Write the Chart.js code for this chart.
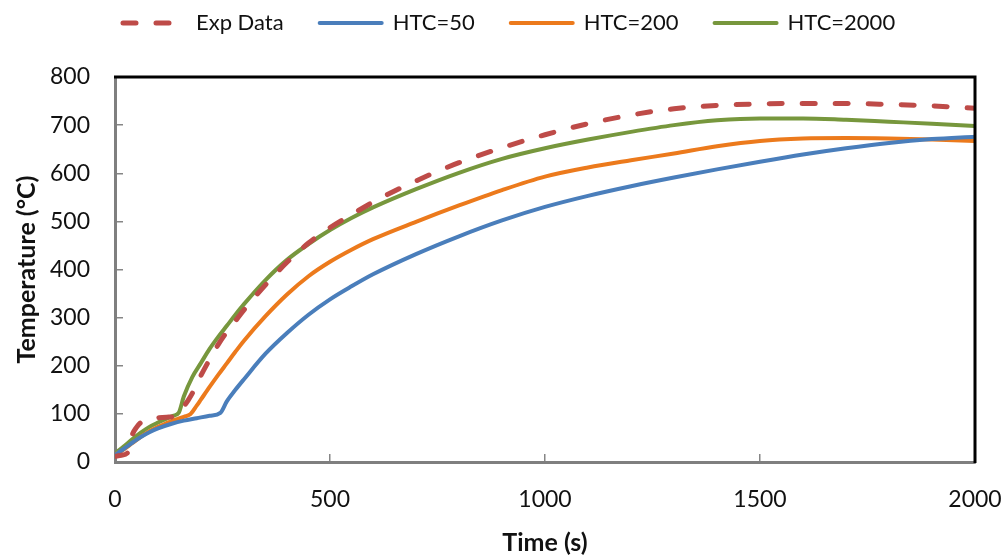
<!DOCTYPE html>
<html>
<head>
<meta charset="utf-8">
<title>Temperature vs time</title>
<script src="https://cdn.jsdelivr.net/npm/chart.js@4.4.1/dist/chart.umd.min.js"></script>
<style>
  html, body { margin: 0; padding: 0; background: #fff; }
</style>
</head>
<body>
<canvas id="tempChart" width="1008" height="559"></canvas>
<script>
const expTime = [0, 15, 30, 40, 50, 60, 70, 80, 100, 120, 140, 150, 160, 170, 180, 190, 200, 220, 240, 260, 280, 300, 350, 400, 450, 500, 550, 600, 650, 700, 750, 800, 900, 1000, 1100, 1200, 1300, 1400, 1500, 1600, 1700, 1800, 1900, 2000];
const expTemp = [12, 14, 20, 56, 72, 82, 87, 90, 92, 93, 95, 99, 115, 128, 143, 162, 180, 213, 244, 270, 293, 316, 368, 415, 455, 487, 514, 540, 563, 584, 604, 622, 653, 680, 703, 721, 734, 741, 744, 745, 745, 743, 740, 735];

// simulations
const time50 = [0, 20, 40, 60, 80, 100, 130, 160, 190, 220, 245, 260, 280, 300, 350, 400, 450, 500, 550, 600, 700, 800, 900, 1000, 1100, 1200, 1300, 1400, 1500, 1600, 1700, 1800, 1900, 2000];
const htc50 = [15, 27, 40, 52, 62, 70, 79, 86, 91, 96, 102, 126, 150, 172, 225, 268, 306, 338, 365, 390, 432, 469, 502, 530, 553, 573, 591, 608, 624, 639, 652, 663, 671, 676];

const time200 = [0, 20, 40, 60, 80, 100, 120, 140, 160, 175, 190, 200, 220, 240, 260, 280, 300, 350, 400, 450, 500, 550, 600, 700, 800, 900, 1000, 1100, 1200, 1300, 1400, 1500, 1600, 1700, 1800, 1900, 2000];
const htc200 = [15, 26, 39, 52, 64, 73, 81, 88, 94, 99, 117, 130, 156, 181, 205, 229, 252, 303, 348, 386, 416, 441, 463, 499, 533, 565, 593, 612, 627, 641, 656, 667, 672, 673, 672, 670, 667];

const time2000 = [0, 20, 40, 60, 80, 100, 120, 135, 148, 160, 180, 200, 220, 240, 260, 280, 300, 350, 400, 450, 500, 550, 600, 700, 800, 900, 1000, 1100, 1200, 1300, 1400, 1500, 1600, 1700, 1800, 1900, 2000];
const htc2000 = [18, 32, 47, 61, 73, 82, 90, 96, 102, 136, 177, 206, 235, 260, 283, 306, 328, 378, 420, 453, 482, 507, 529, 567, 601, 630, 652, 670, 686, 700, 710, 714, 714, 711, 707, 703, 698];

const xTicks = [0, 500, 1000, 1500, 2000];
const yTicks = [0, 100, 200, 300, 400, 500, 600, 700, 800];

const toPoints = (xs, ys) => xs.map((x, i) => ({ x: x, y: ys[i] }));

Chart.defaults.font.family = 'Lato, "Liberation Sans", sans-serif';
Chart.defaults.color = '#111';

// black frame on top and right of the plot area
const frame = {
  id: 'frame',
  afterDatasetsDraw(chart) {
    const { ctx, chartArea: a } = chart;
    ctx.save();
    ctx.strokeStyle = '#000';
    ctx.lineWidth = 3;
    ctx.beginPath();
    ctx.moveTo(a.left - 1, a.top);
    ctx.lineTo(a.right, a.top);
    ctx.lineTo(a.right, a.bottom + 1);
    ctx.stroke();
    ctx.restore();
  }
};

// keep the legend short and nudge it to where the original sits
const legendPlace = {
  id: 'legendPlace',
  beforeInit(chart) {
    const fit = chart.legend.fit;
    chart.legend.fit = function () {
      fit.call(this);
      this.height = 50;
    };
  },
  afterLayout(chart) {
    chart.legend.left = 87;
    chart.legend.top = -24;
  }
};

const ctx = document.getElementById('tempChart').getContext('2d');

new Chart(ctx, {
  type: 'line',
  data: {
    datasets: [
      {
        label: 'Exp Data',
        data: toPoints(expTime, expTemp),
        borderColor: '#BE4B48',
        borderWidth: 5,
        borderDash: [13, 20],
        borderCapStyle: 'round'
      },
      {
        label: 'HTC=50',
        data: toPoints(time50, htc50),
        borderColor: '#4A7EBB',
        borderWidth: 4,
        borderCapStyle: 'round'
      },
      {
        label: 'HTC=200',
        data: toPoints(time200, htc200),
        borderColor: '#EC7A1C',
        borderWidth: 4,
        borderCapStyle: 'round'
      },
      {
        label: 'HTC=2000',
        data: toPoints(time2000, htc2000),
        borderColor: '#77973D',
        borderWidth: 4,
        borderCapStyle: 'round'
      }
    ]
  },
  options: {
    responsive: false,
    animation: false,
    elements: {
      point: { radius: 0, hoverRadius: 0 },
      line: { cubicInterpolationMode: 'monotone', fill: false }
    },
    layout: {
      padding: { top: 27, left: 12, right: 33, bottom: 1 }
    },
    plugins: {
      tooltip: { enabled: false },
      legend: {
        position: 'top',
        align: 'start',
        labels: {
          usePointStyle: true,
          pointStyle: 'line',
          pointStyleWidth: 62,
          padding: 36,
          font: { size: 22 },
          color: '#111',
          generateLabels(chart) {
            const items = Chart.defaults.plugins.legend.labels.generateLabels(chart);
            items.forEach(item => {
              const ds = chart.data.datasets[item.datasetIndex];
              item.lineDash = ds.borderDash || [];
              item.lineCap = ds.borderCapStyle || 'butt';
            });
            return items;
          }
        }
      }
    },
    scales: {
      x: {
        type: 'linear',
        min: 0,
        max: 2000,
        afterBuildTicks: axis => { axis.ticks = xTicks.map(v => ({ value: v })); },
        afterFit: axis => {
          axis.height = 96;
          axis.paddingLeft = 0;
          axis.paddingRight = 0;
        },
        ticks: { padding: 32, font: { size: 23 }, color: '#111', maxRotation: 0, callback: v => String(v) },
        grid: { drawOnChartArea: false, tickLength: -8, color: '#868686', lineWidth: 1.5 },
        border: { color: '#7f7f7f', width: 3 },
        title: {
          display: true,
          text: 'Time (s)',
          font: { size: 25, weight: 'bold' },
          color: '#111',
          padding: 0
        }
      },
      y: {
        min: 0,
        max: 800,
        afterBuildTicks: axis => { axis.ticks = yTicks.map(v => ({ value: v })); },
        afterFit: axis => { axis.width = 103; },
        ticks: { padding: 33, font: { size: 23 }, color: '#111', callback: v => String(v) },
        grid: { drawOnChartArea: false, tickLength: -8, color: '#868686', lineWidth: 1.5 },
        border: { color: '#7f7f7f', width: 3 },
        title: {
          display: true,
          text: 'Temperature (°C)',
          font: { size: 25, weight: 'bold' },
          color: '#111',
          padding: { top: 0, bottom: 8 }
        }
      }
    }
  },
  plugins: [frame, legendPlace]
});
</script>
</body>
</html>
